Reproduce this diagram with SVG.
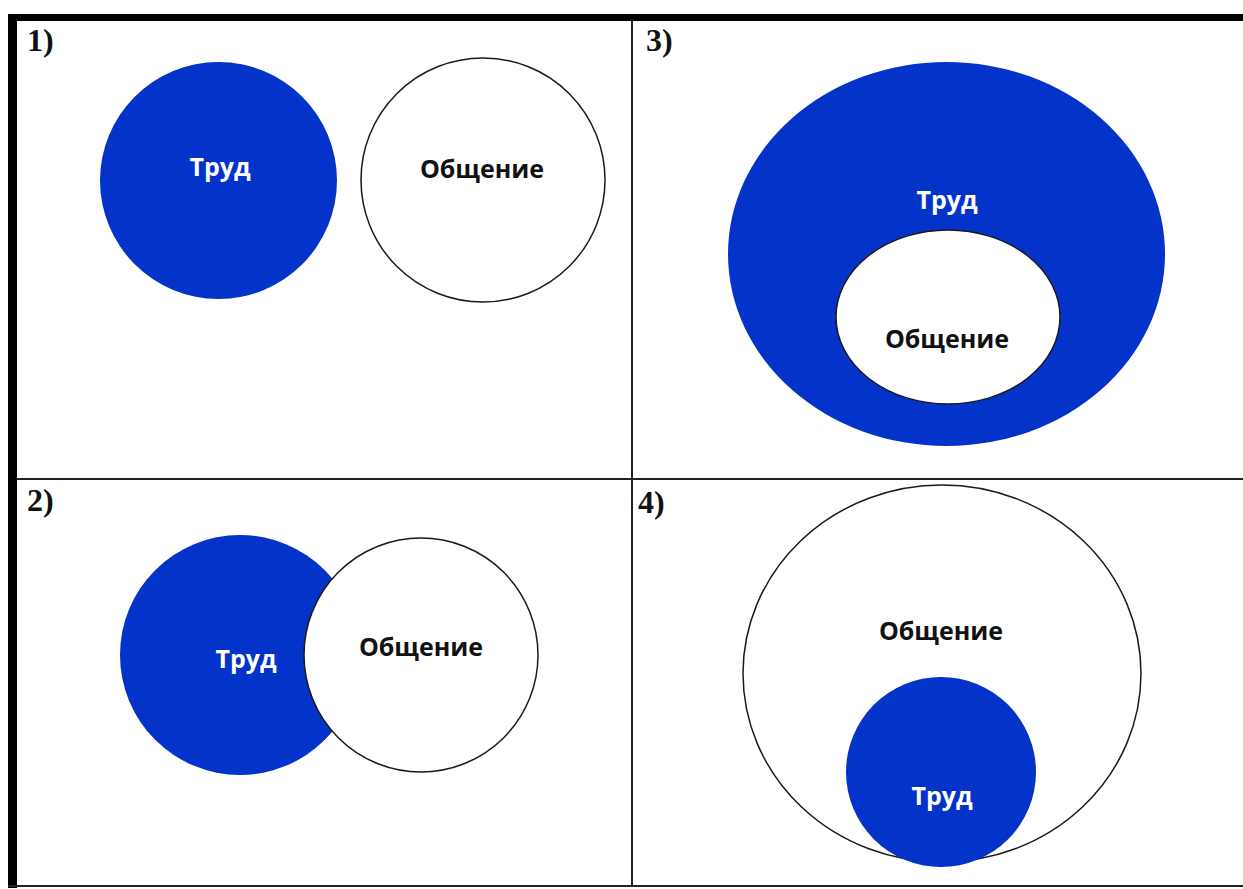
<svg xmlns="http://www.w3.org/2000/svg" width="1243" height="889" viewBox="0 0 1243 889">
<style>
.blue{fill:#0333c9;}
.wc{fill:#ffffff;stroke:#1a1a1a;stroke-width:1.5;}
.lbl{font-family:"Open Sans","DejaVu Sans",sans-serif;font-weight:700;font-size:25px;text-anchor:middle;}
.w{fill:#ffffff;}
.k{fill:#111111;}
.num{font-family:"Liberation Serif","Times New Roman",serif;font-weight:700;font-size:32px;fill:#111111;}
.frame{fill:#000000;}
.grid{stroke:#222222;stroke-width:2;fill:none;}
</style>
<rect x="0" y="0" width="1243" height="889" fill="#ffffff"/>
<g id="frame">
<rect class="frame" x="8" y="14" width="1235" height="7"/>
<rect class="frame" x="8" y="14" width="9" height="874"/>
<line class="grid" x1="8" y1="886" x2="1243" y2="886"/>
<line class="grid" x1="632" y1="21" x2="632" y2="886"/>
<line class="grid" x1="17" y1="479" x2="1243" y2="479"/>
</g>
<g id="panel1">
<text class="num" x="27" y="51">1)</text>
<g id="p1-trud"><circle class="blue" cx="218.5" cy="180.5" r="118.5"/><text class="lbl w" x="220" y="176">Труд</text></g>
<g id="p1-obshchenie"><circle class="wc" cx="483" cy="180" r="122"/><text class="lbl k" x="482" y="178">Общение</text></g>
</g>
<g id="panel2">
<text class="num" x="27" y="511">2)</text>
<g id="p2-trud"><circle class="blue" cx="240" cy="655" r="120"/><text class="lbl w" x="246" y="668">Труд</text></g>
<g id="p2-obshchenie"><circle class="wc" cx="421" cy="655" r="117"/><text class="lbl k" x="421" y="656">Общение</text></g>
</g>
<g id="panel3">
<text class="num" x="646" y="51">3)</text>
<g id="p3-trud"><ellipse class="blue" cx="946.5" cy="254" rx="218.5" ry="192"/><text class="lbl w" x="947" y="209">Труд</text></g>
<g id="p3-obshchenie"><ellipse class="wc" cx="948" cy="317" rx="112" ry="87"/><text class="lbl k" x="947" y="348">Общение</text></g>
</g>
<g id="panel4">
<text class="num" x="638" y="513">4)</text>
<g id="p4-obshchenie"><ellipse class="wc" cx="942" cy="673.5" rx="199" ry="188.5"/><text class="lbl k" x="941" y="640">Общение</text></g>
<g id="p4-trud"><circle class="blue" cx="941" cy="772" r="95"/><text class="lbl w" x="942" y="805">Труд</text></g>
</g>
<g id="connectors"></g>
</svg>
